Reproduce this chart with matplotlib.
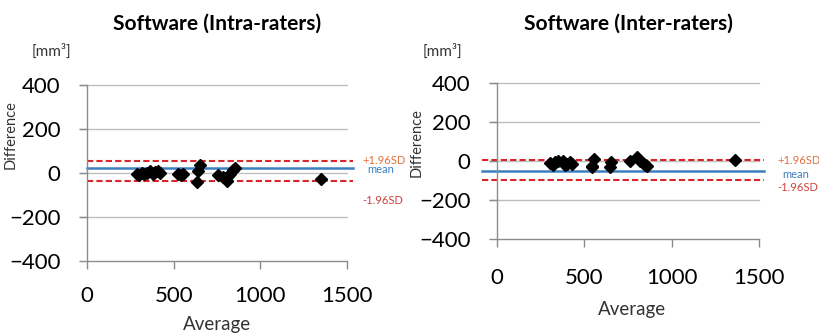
import matplotlib
matplotlib.use('Agg')
import matplotlib.pyplot as plt

plt.rcParams['font.family'] = ['Lato', 'DejaVu Sans']

# intra-raters (left panel)
intra_avg = [287, 300, 315, 330, 344, 363, 378, 392, 410, 421,
             527, 540, 556, 633, 643, 652,
             758, 786, 806, 815, 825, 840, 854, 1350]
intra_diff = [-5, -8, 2, -6, -2, 8, -4, 6, 10, 2,
              -4, -8, -6, -43, 10, 35,
              -10, -20, -35, -15, -5, 12, 22, -25]
intra_upper, intra_mean, intra_lower = 53, 22, -38

# inter-raters (right panel)
inter_avg = [303, 320, 332, 350, 380, 390, 400, 418, 430,
             542, 545, 557, 647, 650,
             761, 800, 818, 835, 847, 857, 1363]
inter_diff = [-10, -20, -7, 2, 2, -20, -15, -7, -15,
              -24, -30, 10, -29, -5,
              2, 18, 0, -12, -20, -24, 5]
inter_upper, inter_mean, inter_lower = 5, -50, -95

xticks = [0, 500, 1000, 1500]
yticks = [-400, -200, 0, 200, 400]

RED = '#D7262B'
BLUE = '#3C7FC0'
GRID = '#BFBFBF'
AXIS = '#8C8C8C'


def draw_panel(ax, avg, diff, upper, mean, lower, title, line_x, pos):
    ax.set_xlim(0, 1500)
    ax.set_ylim(-400, 400)
    for y in yticks[1:]:
        ax.plot([-40, 1500], [y, y], color=GRID, lw=1, clip_on=False, zorder=1)
    for s in ['top', 'right']:
        ax.spines[s].set_visible(False)
    for s in ['left', 'bottom']:
        ax.spines[s].set_color(AXIS)
        ax.spines[s].set_linewidth(1)
    ax.set_xticks(xticks)
    ax.set_yticks(yticks)
    ax.tick_params(axis='both', colors=AXIS, length=6, width=1, labelcolor='black', labelsize=16)
    ax.tick_params(axis='x', pad=pos['xpad'])
    ax.tick_params(axis='y', pad=13)

    ax.plot(line_x, [upper, upper], color=RED, lw=1.5, ls=(0, (3, 1.5)), clip_on=False, zorder=2)
    ax.plot(line_x, [lower, lower], color=RED, lw=1.5, ls=(0, (3, 1.5)), clip_on=False, zorder=2)
    ax.plot(line_x, [mean, mean], color=BLUE, lw=1.8, clip_on=False, zorder=2)
    ax.plot(avg, diff, 'D', color='black', markersize=6.5, zorder=3, clip_on=False)

    ax.text(0.5, pos['title_y'], title, transform=ax.transAxes, fontsize=15,
            fontweight='bold', ha='center', va='center')
    ax.set_ylabel('Difference', fontsize=10.5, color='#333333')
    ax.set_xlabel('Average', fontsize=13.5, color='#333333')
    ax.yaxis.set_label_coords(*pos['ylabel'])
    ax.xaxis.set_label_coords(*pos['xlabel'])
    ax.text(pos['unit'][0], pos['unit'][1], '[mm³]', transform=ax.transAxes, fontsize=11,
            color='#333333', ha='center', va='center')

    tr = ax.get_yaxis_transform()
    tx = pos['sd_x']
    ax.text(tx, pos['sd_y'][0], '+1.96SD', transform=tr, fontsize=8, color='#E0703C', va='center')
    ax.text(tx + 0.02, pos['sd_y'][1], 'mean', transform=tr, fontsize=8, color=BLUE, va='center')
    ax.text(tx, pos['sd_y'][2], '-1.96SD', transform=tr, fontsize=8, color='#D0403C', va='center')


fig = plt.figure(figsize=(8.2, 3.36), dpi=100)
ax1 = fig.add_axes([87 / 820, 1 - 261 / 336, 260 / 820, 176 / 336])
ax2 = fig.add_axes([497 / 820, 1 - 239 / 336, 262 / 820, 156 / 336])

draw_panel(ax1, intra_avg, intra_diff, intra_upper, intra_mean, intra_lower,
           'Software (Intra-raters)', [0, 1535],
           {'xpad': 12, 'title_y': 1.35, 'ylabel': (-0.265, 0.716), 'xlabel': (0.5, -0.31),
            'unit': (-0.135, 1.19), 'sd_x': 1.058, 'sd_y': [59, 14, -123]})

draw_panel(ax2, inter_avg, inter_diff, inter_upper, inter_mean, inter_lower,
           'Software (Inter-raters)', [-85, 1530],
           {'xpad': 15, 'title_y': 1.38, 'ylabel': (-0.28, 0.615), 'xlabel': (0.515, -0.40),
            'unit': (-0.21, 1.2), 'sd_x': 1.069, 'sd_y': [5, -67, -138]})

fig.savefig('out.png', dpi=100)
